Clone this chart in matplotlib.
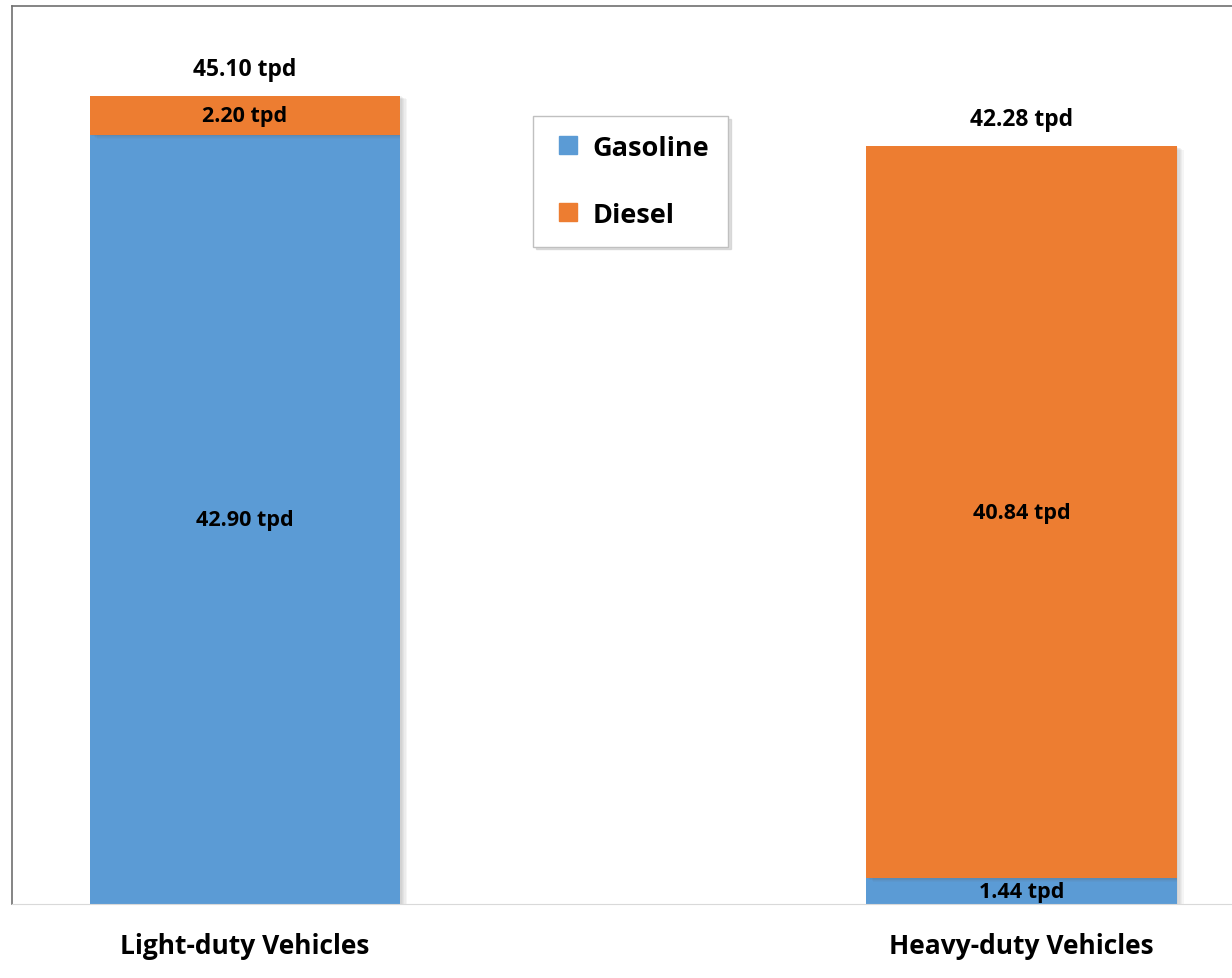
import matplotlib.pyplot as plt
import matplotlib.patheffects as pe
from matplotlib.lines import Line2D

categories = ['Light-duty Vehicles', 'Heavy-duty Vehicles']
gasoline = [42.90, 1.44]
diesel = [2.20, 40.84]
totals = [45.10, 42.28]

blue = '#5b9bd5'
orange = '#ed7d31'
plt.rcParams['font.family'] = ['Open Sans', 'DejaVu Sans']

fig = plt.figure(figsize=(12.32, 9.79), dpi=100)
ax = fig.add_axes([12 / 1232, 74 / 979, 1220 / 1232, 898 / 979])

# soft shadow built from a few faint offset copies
shadow = [pe.SimplePatchShadow(offset=(d, -d * 0.5), shadow_rgbFace='#606060', alpha=0.06)
          for d in (1, 2, 3, 4, 5)] + [pe.Normal()]

x = [0, 1]
ax.bar(x, gasoline, width=0.4, color=blue, path_effects=shadow, zorder=2)
ax.bar(x, diesel, width=0.4, bottom=gasoline, color=orange, path_effects=shadow, zorder=2)

for i in range(2):
    ax.text(x[i], gasoline[i] / 2, f'{gasoline[i]:.2f} tpd', ha='center', va='center',
            fontsize=15.5, fontweight='bold', zorder=3)
    ax.text(x[i], gasoline[i] + diesel[i] / 2, f'{diesel[i]:.2f} tpd', ha='center', va='center',
            fontsize=15.5, fontweight='bold', zorder=3)
    ax.text(x[i], totals[i] + 1.5, f'{totals[i]:.2f} tpd', ha='center', va='center',
            fontsize=16.5, fontweight='bold')

ax.set_xlim(-0.300, 1.271)
ax.set_ylim(0, 50.1)
ax.set_xticks(x)
ax.set_xticklabels(categories, fontsize=19, fontweight='bold')
ax.tick_params(axis='x', length=0, pad=20)
ax.set_yticks([])

ax.spines['right'].set_visible(False)
ax.spines['left'].set_color('#707070')
ax.spines['top'].set_color('#707070')
ax.spines['left'].set_linewidth(1.2)
ax.spines['top'].set_linewidth(1.2)
ax.spines['bottom'].set_color('#d9d9d9')

handles = [Line2D([], [], marker='s', linestyle='none', markersize=13, color=blue),
           Line2D([], [], marker='s', linestyle='none', markersize=13, color=orange)]
leg = ax.legend(handles, ['Gasoline', 'Diesel'], loc='upper left',
                bbox_to_anchor=((533 - 12) / 1220, (979 - 117 - 74) / 898),
                prop={'size': 19.5, 'weight': 'bold'}, frameon=True, fancybox=False,
                shadow={'color': '#c0c0c0', 'alpha': 0.5}, handlelength=1.2,
                labelspacing=1.5, borderpad=0.7, handletextpad=0.3, borderaxespad=0)
leg.get_frame().set_edgecolor('#c0c0c0')

fig.savefig('out.png', dpi=100)
